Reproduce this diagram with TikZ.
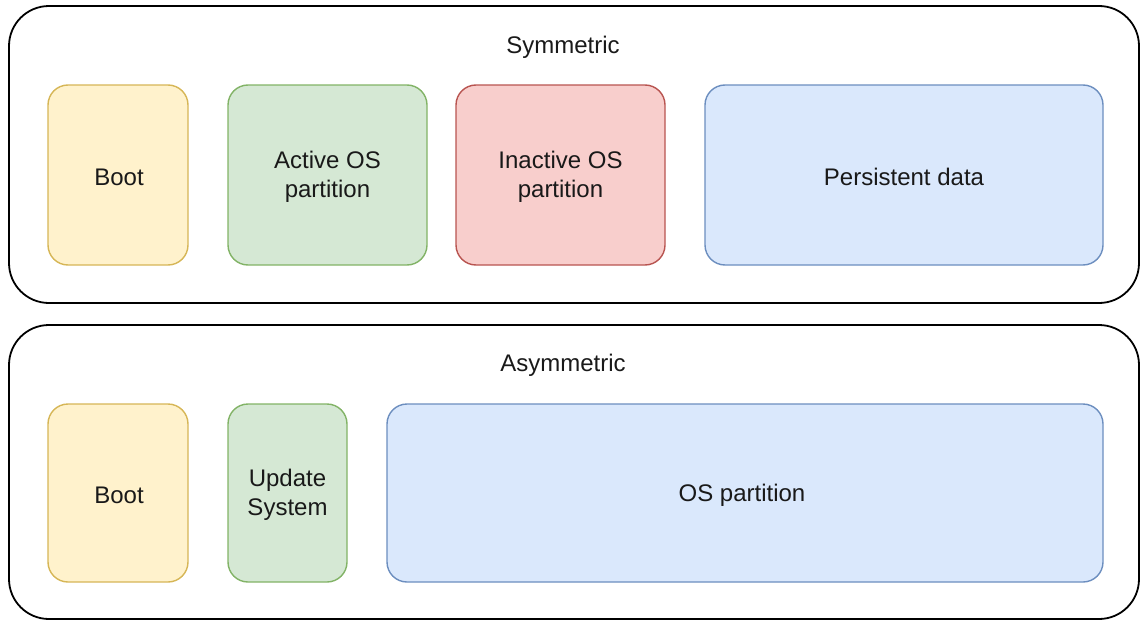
\documentclass[tikz,border=0pt]{standalone}
\usepackage{fontspec}
\setmainfont{Liberation Sans}
\definecolor{yfill}{HTML}{FFF2CC}\definecolor{ydraw}{HTML}{D6B656}
\definecolor{gfill}{HTML}{D5E8D4}\definecolor{gdraw}{HTML}{82B366}
\definecolor{rfill}{HTML}{F8CECC}\definecolor{rdraw}{HTML}{B85450}
\definecolor{bfill}{HTML}{DAE8FC}\definecolor{bdraw}{HTML}{6C8EBF}
\begin{document}
\begin{tikzpicture}[x=1pt,y=-1pt,
  outerbox/.style={draw=black,line width=1.8pt,rounded corners=40pt},
  part/.style={line width=1.4pt,rounded corners=20pt},
  lbl/.style={font=\fontsize{24}{29.5}\selectfont,align=center,text=black!90,inner sep=0pt},
  yel/.style={part,fill=yfill,draw=ydraw},
  grn/.style={part,fill=gfill,draw=gdraw},
  red/.style={part,fill=rfill,draw=rdraw},
  blu/.style={part,fill=bfill,draw=bdraw}]
\useasboundingbox (0,0) rectangle (1141,621);
% outer containers
\draw[outerbox] (9,6) rectangle (1139,303);
\draw[outerbox] (9,325) rectangle (1139,619);
\node[lbl] (tsym) at (563,47) {Symmetric};
\node[lbl] (tasym) at (563,365) {Asymmetric};
% symmetric row
\draw[yel] (48,85) rectangle (188,265);
\node[lbl] (boot1) at (119,177) {Boot};
\draw[grn] (228,85) rectangle (427,265);
\node[lbl] (act) at (327.5,177) {Active OS\\partition};
\draw[red] (456,85) rectangle (665,265);
\node[lbl] (inact) at (560.5,177) {Inactive OS\\partition};
\draw[blu] (705,85) rectangle (1103,265);
\node[lbl] (pers) at (904,177) {Persistent data};
% asymmetric row
\draw[yel] (48,404) rectangle (188,582);
\node[lbl] (boot2) at (119,495) {Boot};
\draw[grn] (228,404) rectangle (347,582);
\node[lbl] (upd) at (287.5,495) {Update\\System};
\draw[blu] (387,404) rectangle (1103,582);
\node[lbl] (os) at (742,495) {OS partition};
\end{tikzpicture}
\end{document}
